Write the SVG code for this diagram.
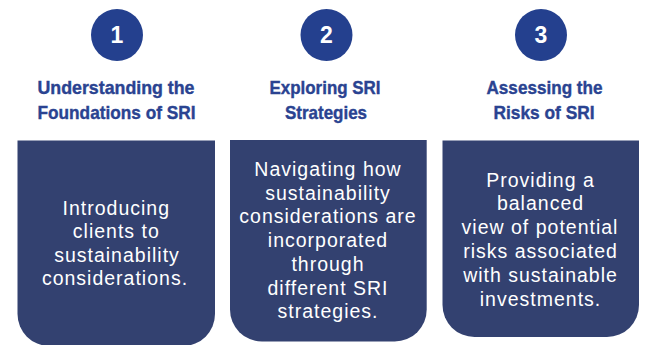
<svg xmlns="http://www.w3.org/2000/svg" width="645" height="345" viewBox="0 0 645 345">
<style>
.badge{fill:#24408E}
.num{font-family:"Liberation Sans",Arial,sans-serif;font-weight:bold;font-size:23px;fill:#fff;text-anchor:middle}
.title{font-family:"Liberation Sans",Arial,sans-serif;font-weight:bold;font-size:19px;fill:#2A4391;stroke:#2A4391;stroke-width:0.4px;text-anchor:middle}
.box{fill:#334170}
.body{font-family:"Liberation Sans",Arial,sans-serif;font-size:19.5px;letter-spacing:1px;fill:#fff;text-anchor:middle}
</style>
<rect width="645" height="345" fill="#fff"/>
<g id="step1">
<circle class="badge" cx="117" cy="35" r="26"/>
<text class="num" x="117" y="43.3">1</text>
<text class="title" x="116" y="94" textLength="157" lengthAdjust="spacingAndGlyphs">Understanding the</text>
<text class="title" x="116.5" y="119.3" textLength="158" lengthAdjust="spacingAndGlyphs">Foundations of SRI</text>
<path class="box" d="M17.5,140.5 H215 V314 a32,32 0 0 1 -32,32 H49.5 a32,32 0 0 1 -32,-32 Z"/>
<text class="body" x="116.3" y="214.5">Introducing</text>
<text class="body" x="116.3" y="238">clients to</text>
<text class="body" x="117" y="261.5">sustainability</text>
<text class="body" x="115" y="285">considerations.</text>
</g>
<g id="step2">
<circle class="badge" cx="326.5" cy="35" r="26"/>
<text class="num" x="326.5" y="43.3">2</text>
<text class="title" x="325" y="94" textLength="111" lengthAdjust="spacingAndGlyphs">Exploring SRI</text>
<text class="title" x="326" y="119.3" textLength="82" lengthAdjust="spacingAndGlyphs">Strategies</text>
<path class="box" d="M230,140 H426.7 V309.5 a32,32 0 0 1 -32,32 H262 a32,32 0 0 1 -32,-32 Z"/>
<text class="body" x="328" y="176">Navigating how</text>
<text class="body" x="328" y="199.7">sustainability</text>
<text class="body" x="328" y="223.4">considerations are</text>
<text class="body" x="328" y="247.1">incorporated</text>
<text class="body" x="328" y="270.8">through</text>
<text class="body" x="328" y="294.5">different SRI</text>
<text class="body" x="328" y="318.2">strategies.</text>
</g>
<g id="step3">
<circle class="badge" cx="541" cy="35" r="26"/>
<text class="num" x="541" y="43.3">3</text>
<text class="title" x="544.5" y="94" textLength="116" lengthAdjust="spacingAndGlyphs">Assessing the</text>
<text class="title" x="544" y="119.3" textLength="101" lengthAdjust="spacingAndGlyphs">Risks of SRI</text>
<path class="box" d="M442.5,140.5 H639 V305 a32,32 0 0 1 -32,32 H474.5 a32,32 0 0 1 -32,-32 Z"/>
<text class="body" x="540.5" y="186.5">Providing a</text>
<text class="body" x="540.5" y="210.3">balanced</text>
<text class="body" x="540" y="234.1">view of potential</text>
<text class="body" x="540.5" y="257.9">risks associated</text>
<text class="body" x="540.5" y="281.7">with sustainable</text>
<text class="body" x="540.5" y="305.5">investments.</text>
</g>
<g id="connectors"></g>
</svg>
